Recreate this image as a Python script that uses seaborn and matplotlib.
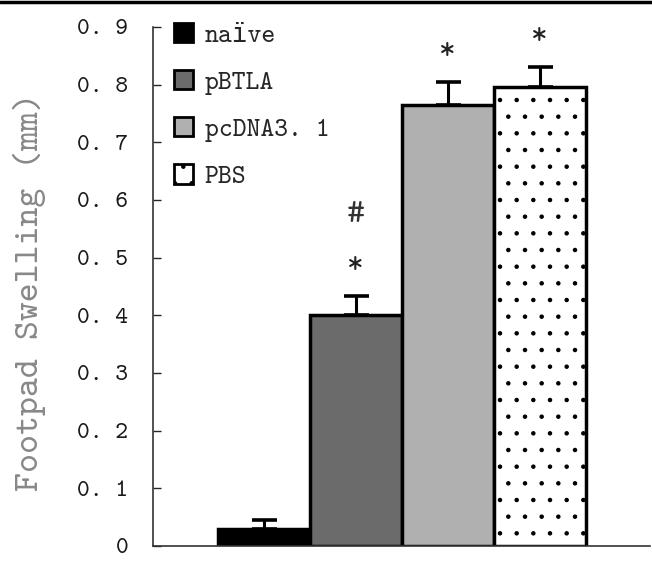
import matplotlib
matplotlib.use("Agg")
import matplotlib.pyplot as plt
import numpy as np
import pandas as pd
import seaborn as sns
from matplotlib.lines import Line2D
from matplotlib.patches import Patch

groups = ["naïve", "pBTLA", "pcDNA3.1", "PBS"]
legend_labels = ["naïve", "pBTLA", "pcDNA3. 1", "PBS"]
swelling = [0.030, 0.400, 0.765, 0.795]
sem = [0.015, 0.033, 0.040, 0.035]
marks = ["", "*", "*", "*"]
extra_marks = ["", "#", "", ""]
tick_values = [0.0, 0.1, 0.2, 0.3, 0.4, 0.5, 0.6, 0.7, 0.8, 0.9]
tick_labels = ["0", "0. 1", "0. 2", "0. 3", "0. 4", "0. 5", "0. 6", "0. 7", "0. 8", "0. 9"]

colors = ["#000000", "#6b6b6b", "#b0b0b0", "#ffffff"]

sns.set_theme(style="white")
plt.rcParams["font.family"] = ["cmtt10", "DejaVu Sans Mono"]
plt.rcParams["axes.unicode_minus"] = False
plt.rcParams["hatch.linewidth"] = 0.8
plt.rcParams["hatch.color"] = "#333333"

frame = pd.DataFrame({"group": groups, "swelling": swelling})

fig = plt.figure(figsize=(6.52, 5.61), dpi=100)
ax = fig.add_axes([0.235, 0.027, 0.762, 0.925])

sns.barplot(
    data=frame, x="group", y="swelling", hue="group", palette=colors,
    order=groups, hue_order=groups, dodge=False, width=1.0,
    edgecolor="black", linewidth=2.5, legend=False, ax=ax,
)
ax.patches[3].set_hatch(".")

x = np.arange(len(groups))
ax.errorbar(x, swelling, yerr=[np.zeros(len(sem)), sem], fmt="none",
            ecolor="black", elinewidth=2.2, capsize=9, capthick=2.6, zorder=1)

for xi, val, err, m, e in zip(x, swelling, sem, marks, extra_marks):
    if m:
        ax.text(xi, val + err + 0.05, m, ha="center", va="center", fontsize=23,
                color="#222222", clip_on=False)
    if e:
        ax.text(xi, val + err + 0.14, e, ha="center", va="center", fontsize=25,
                color="#333333", clip_on=False)

ax.set_xlim(-1.2, 4.2)
ax.set_ylim(0, 0.9)
ax.set_yticks(tick_values)
ax.set_yticklabels(tick_labels, fontsize=17.5, color="#1a1a1a")
ax.set_xticks([])
ax.set_xlabel("")
ax.set_ylabel("Footpad Swelling (mm)", fontsize=26, color="#888888")
ax.yaxis.set_label_coords(-0.215, 0.49)
ax.tick_params(axis="y", direction="in", length=6, width=1, left=True, pad=18)
for side in ["top", "right"]:
    ax.spines[side].set_visible(False)
for side in ["left", "bottom"]:
    ax.spines[side].set_color("#333333")
    ax.spines[side].set_linewidth(1.2)

handles = [Patch(facecolor=c, edgecolor="black", linewidth=2,
                 hatch="." if g == "PBS" else None) for g, c in zip(groups, colors)]
ax.legend(handles, legend_labels, loc="upper left", bbox_to_anchor=(0.005, 1.043),
          frameon=False, fontsize=19, handlelength=0.7, handleheight=0.75,
          handletextpad=0.45, labelspacing=0.84, borderaxespad=0.3)

fig.add_artist(Line2D([0, 1], [0.997, 0.997], color="black", linewidth=2.5,
                      transform=fig.transFigure))

fig.savefig("out.png", dpi=100)
